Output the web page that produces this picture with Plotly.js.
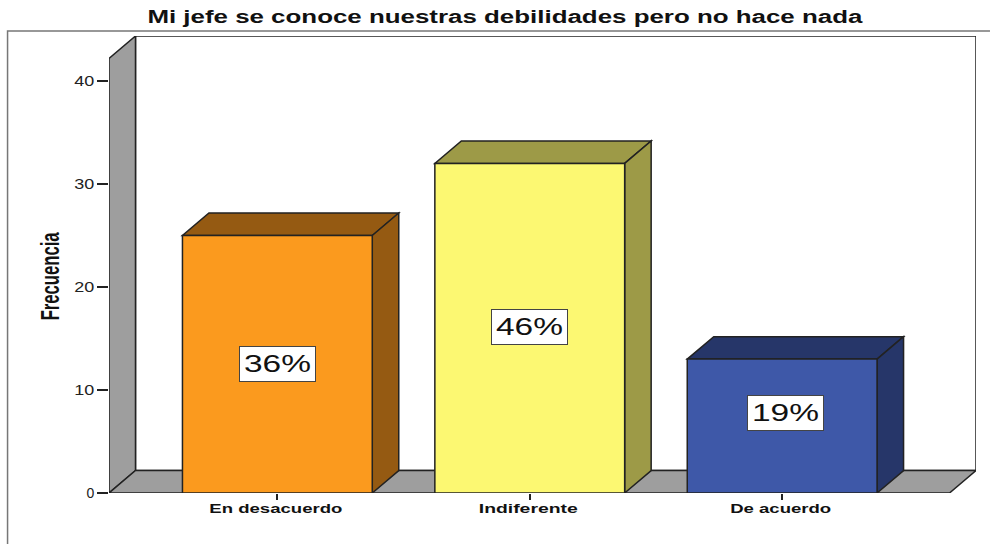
<!DOCTYPE html>
<html>
<head>
<meta charset="utf-8">
<script src="https://cdn.plot.ly/plotly-3.0.1.min.js"></script>
<style>html,body{margin:0;padding:0;background:#fff}#chart{width:990px;height:544px}</style>
</head>
<body>
<div id="chart"></div>
<script>
const categories = ["En desacuerdo", "Indiferente", "De acuerdo"];
const frequencies = [25, 32, 13];
const percentLabels = ["36%", "46%", "19%"];
const labelHeights = [12.5, 16.1, 7.8];
const labelCenters = [0, 1, 2.012];
const frontColors = ["#FB9A1E", "#FCF872", "#3E58A8"];
const shadeColors = ["#955A12", "#9D9A47", "#263669"];
const yTicks = [0, 10, 20, 30, 40];

const positions = categories.map((_, i) => i);
const barWidth = 0.752;
const xMin = -0.667, xMax = 2.768, yMax = 44.37;
const depthX = 0.105, depthY = 2.18;
const frontRight = xMax - depthX;
const frontTop = yMax - depthY;
const edge = "#222222";
const FONT = "Liberation Sans, Arial, sans-serif";

function poly(points, fill, layer) {
  return {
    type: "path", xref: "x", yref: "y", layer: layer,
    path: "M" + points.map(p => p.join(",")).join("L") + "Z",
    fillcolor: fill, line: {color: edge, width: 1.5}
  };
}

const shapes = [
  poly([[xMin + depthX, depthY], [xMax, depthY], [xMax, yMax], [xMin + depthX, yMax]], "#FFFFFF", "below"),
  poly([[xMin, 0], [xMin, frontTop], [xMin + depthX, yMax], [xMin + depthX, depthY]], "#9E9E9E", "below"),
  poly([[xMin, 0], [frontRight, 0], [xMax, depthY], [xMin + depthX, depthY]], "#9E9E9E", "below"),
  {type: "path", xref: "paper", yref: "paper",
   path: "M" + ((7 - 108.5) / 867.5) + "," + (-(544 - 493) / 457) + "L" + ((7 - 108.5) / 867.5) + "," + (1 + 5 / 457) + "L" + ((990 - 108.5) / 867.5) + "," + (1 + 5 / 457),
   line: {color: "#777777", width: 1.5}, layer: "below"}
];

frequencies.forEach((v, i) => {
  const l = positions[i] - barWidth / 2, r = positions[i] + barWidth / 2;
  shapes.push(poly([[l, v], [r, v], [r + depthX, v + depthY], [l + depthX, v + depthY]], shadeColors[i], "below"));
  shapes.push(poly([[r, 0], [r + depthX, depthY], [r + depthX, v + depthY], [r, v]], shadeColors[i], "below"));
});

const annotations = percentLabels.map((t, i) => ({
  x: labelCenters[i], y: labelHeights[i], xref: "x", yref: "y",
  text: t, showarrow: false, width: 75, height: 34,
  bgcolor: "#FFFFFF", bordercolor: "#444444", borderwidth: 1, borderpad: 0,
  font: {family: FONT, size: 23, color: "#111111"}
}));

const trace = {
  type: "bar", x: positions, y: frequencies, width: barWidth,
  marker: {color: frontColors, line: {color: edge, width: 1.5}},
  hoverinfo: "y"
};

const layout = {
  width: 990, height: 544,
  margin: {l: 108.5, r: 14, t: 36, b: 51, pad: 0},
  paper_bgcolor: "#FFFFFF", plot_bgcolor: "#FFFFFF",
  showlegend: false,
  title: {
    text: "Mi jefe se conoce nuestras debilidades pero no hace nada",
    font: {family: FONT, size: 18, weight: 700, color: "#111111"},
    xref: "container", yref: "container", x: 0.51, y: 0.969, xanchor: "center", yanchor: "middle"
  },
  xaxis: {
    range: [xMin, xMax], tickmode: "array", tickvals: positions,
    ticktext: categories,
    ticks: "outside", ticklen: 6, tickwidth: 1.5, tickcolor: edge,
    ticklabelstandoff: -3,
    tickfont: {family: FONT, size: 13, weight: 700, color: "#111111"},
    showgrid: false, zeroline: false, showline: false, fixedrange: true
  },
  yaxis: {
    range: [0, yMax], tickmode: "array", tickvals: yTicks,
    ticks: "outside", ticklen: 11, tickwidth: 1.5, tickcolor: edge,
    tickfont: {family: FONT, size: 14, color: "#222222"},
    showgrid: false, zeroline: false, showline: false, fixedrange: true,
    title: {
      text: "Frecuencia", standoff: 26,
      font: {family: FONT, size: 25, weight: 700, color: "#111111"}
    }
  },
  shapes: shapes,
  annotations: annotations
};

// The reference's text is stretched; fit each text run to its measured length.
const stretch = {title: 715, axis: 88, x: [133, 99, 101], y: 20, note: 67};
const axisTitleCenter = {x: 50, y: 276};
function fit(node, length) {
  if (!node) return;
  node.setAttribute("textLength", length);
  node.setAttribute("lengthAdjust", "spacingAndGlyphs");
}
function shift(node, dx, dy) {
  node.setAttribute("transform", "translate(" + dx + "," + dy + ") " + (node.getAttribute("transform") || ""));
}
Plotly.newPlot("chart", [trace], layout, {displayModeBar: false, responsive: false}).then(gd => {
  fit(gd.querySelector(".gtitle"), stretch.title);
  const yt = gd.querySelector(".ytitle");
  fit(yt, stretch.axis);
  const b = yt.getBoundingClientRect();
  shift(yt, axisTitleCenter.x - (b.left + b.right) / 2, axisTitleCenter.y - (b.top + b.bottom) / 2);
  gd.querySelectorAll(".xtick text").forEach((n, i) => { fit(n, stretch.x[i]); shift(n, -1.5, 0); });
  gd.querySelectorAll(".ytick text").forEach(n => { if (n.textContent.length > 1) fit(n, stretch.y); });
  gd.querySelectorAll(".annotation-text").forEach(n => fit(n, stretch.note));
});
</script>
</body>
</html>
